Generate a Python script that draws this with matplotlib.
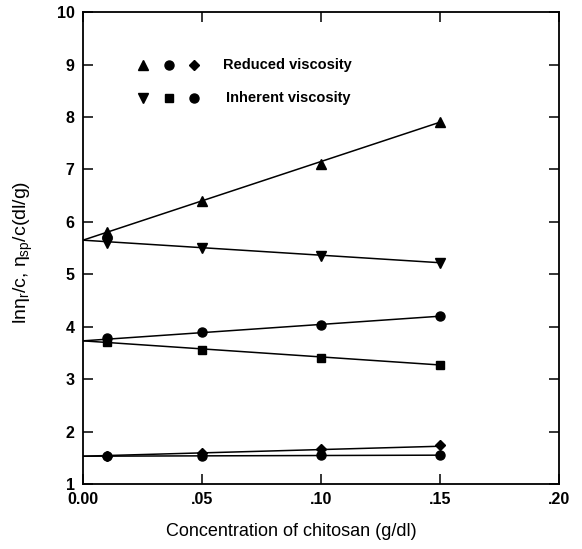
import numpy as np
import matplotlib
matplotlib.use('Agg')
import matplotlib.pyplot as plt

plt.rcParams['font.family'] = ['Liberation Sans', 'DejaVu Sans']
plt.rcParams['mathtext.fontset'] = 'custom'
plt.rcParams['mathtext.rm'] = 'Liberation Sans'
plt.rcParams['mathtext.it'] = 'Liberation Sans'

# concentracion de quitosano (g/dl)
conc = [0.01, 0.05, 0.10, 0.15]

# viscosidad reducida (tres muestras)
red_tri = [5.80, 6.40, 7.10, 7.90]
red_circ = [3.78, 3.90, 4.03, 4.20]
red_diam = [1.53, 1.60, 1.67, 1.75]

# viscosidad inherente (tres muestras)
inh_tri = [5.60, 5.50, 5.35, 5.22]
inh_sq = [3.70, 3.56, 3.40, 3.27]
inh_circ = [1.53, 1.54, 1.55, 1.55]

# rectas de ajuste: valor en c=0 y en c=0.15
fit_x = [0.0, 0.15]
fit_red_tri = [5.65, 7.90]
fit_inh_tri = [5.65, 5.22]
fit_red_circ = [3.73, 4.20]
fit_inh_sq = [3.73, 3.27]
fit_red_diam = [1.53, 1.72]
fit_inh_circ = [1.53, 1.55]

fig = plt.figure(figsize=(5.82, 5.49), dpi=100)
ax = fig.add_axes([0.1426, 0.1184, 0.8179, 0.8596])

for fy in [fit_red_tri, fit_inh_tri, fit_red_circ, fit_inh_sq, fit_red_diam, fit_inh_circ]:
    ax.plot(fit_x, fy, color='black', lw=1.1)

ms = 6.5
ax.plot(conc, red_tri, '^', color='black', ms=ms)
ax.plot(conc, inh_tri, 'v', color='black', ms=ms)
ax.plot(conc, red_circ, 'o', color='black', ms=ms)
ax.plot(conc, inh_sq, 's', color='black', ms=ms - 0.5)
ax.plot(conc, red_diam, 'D', color='black', ms=ms - 1)
ax.plot(conc, inh_circ, 'o', color='black', ms=ms)

# leyenda manual
ax.plot([0.0254], [8.99], '^', color='black', ms=ms)
ax.plot([0.036], [8.99], 'o', color='black', ms=ms)
ax.plot([0.0466], [8.99], 'D', color='black', ms=ms - 1)
ax.text(0.059, 8.99, 'Reduced viscosity', fontsize=10.5, fontweight='bold', va='center')
ax.plot([0.0254], [8.36], 'v', color='black', ms=ms)
ax.plot([0.036], [8.36], 's', color='black', ms=ms - 0.5)
ax.plot([0.0466], [8.36], 'o', color='black', ms=ms)
ax.text(0.060, 8.36, 'Inherent viscosity', fontsize=10.5, fontweight='bold', va='center')

ax.set_xlim(0, 0.20)
ax.set_ylim(1, 10)
ax.set_xticks([0.0, 0.05, 0.10, 0.15, 0.20])
ax.set_xticklabels(['0.00', '.05', '.10', '.15', '.20'])
ax.set_yticks(range(1, 11))
ax.tick_params(direction='in', top=True, right=True, length=7, width=1.1, labelsize=11.5, pad=6)
for lab in ax.get_xticklabels() + ax.get_yticklabels():
    lab.set_fontweight('bold')
for sp in ax.spines.values():
    sp.set_linewidth(1.3)

ax.set_xlabel('Concentration of chitosan (g/dl)', fontsize=13)
ax.xaxis.set_label_coords(0.437, -0.083)
ax.set_ylabel(r'ln$\eta_r$/c, $\eta_{sp}$/c(dl/g)', fontsize=14)
ax.yaxis.set_label_coords(-0.10, 0.49)

fig.savefig('out.png', dpi=100)
